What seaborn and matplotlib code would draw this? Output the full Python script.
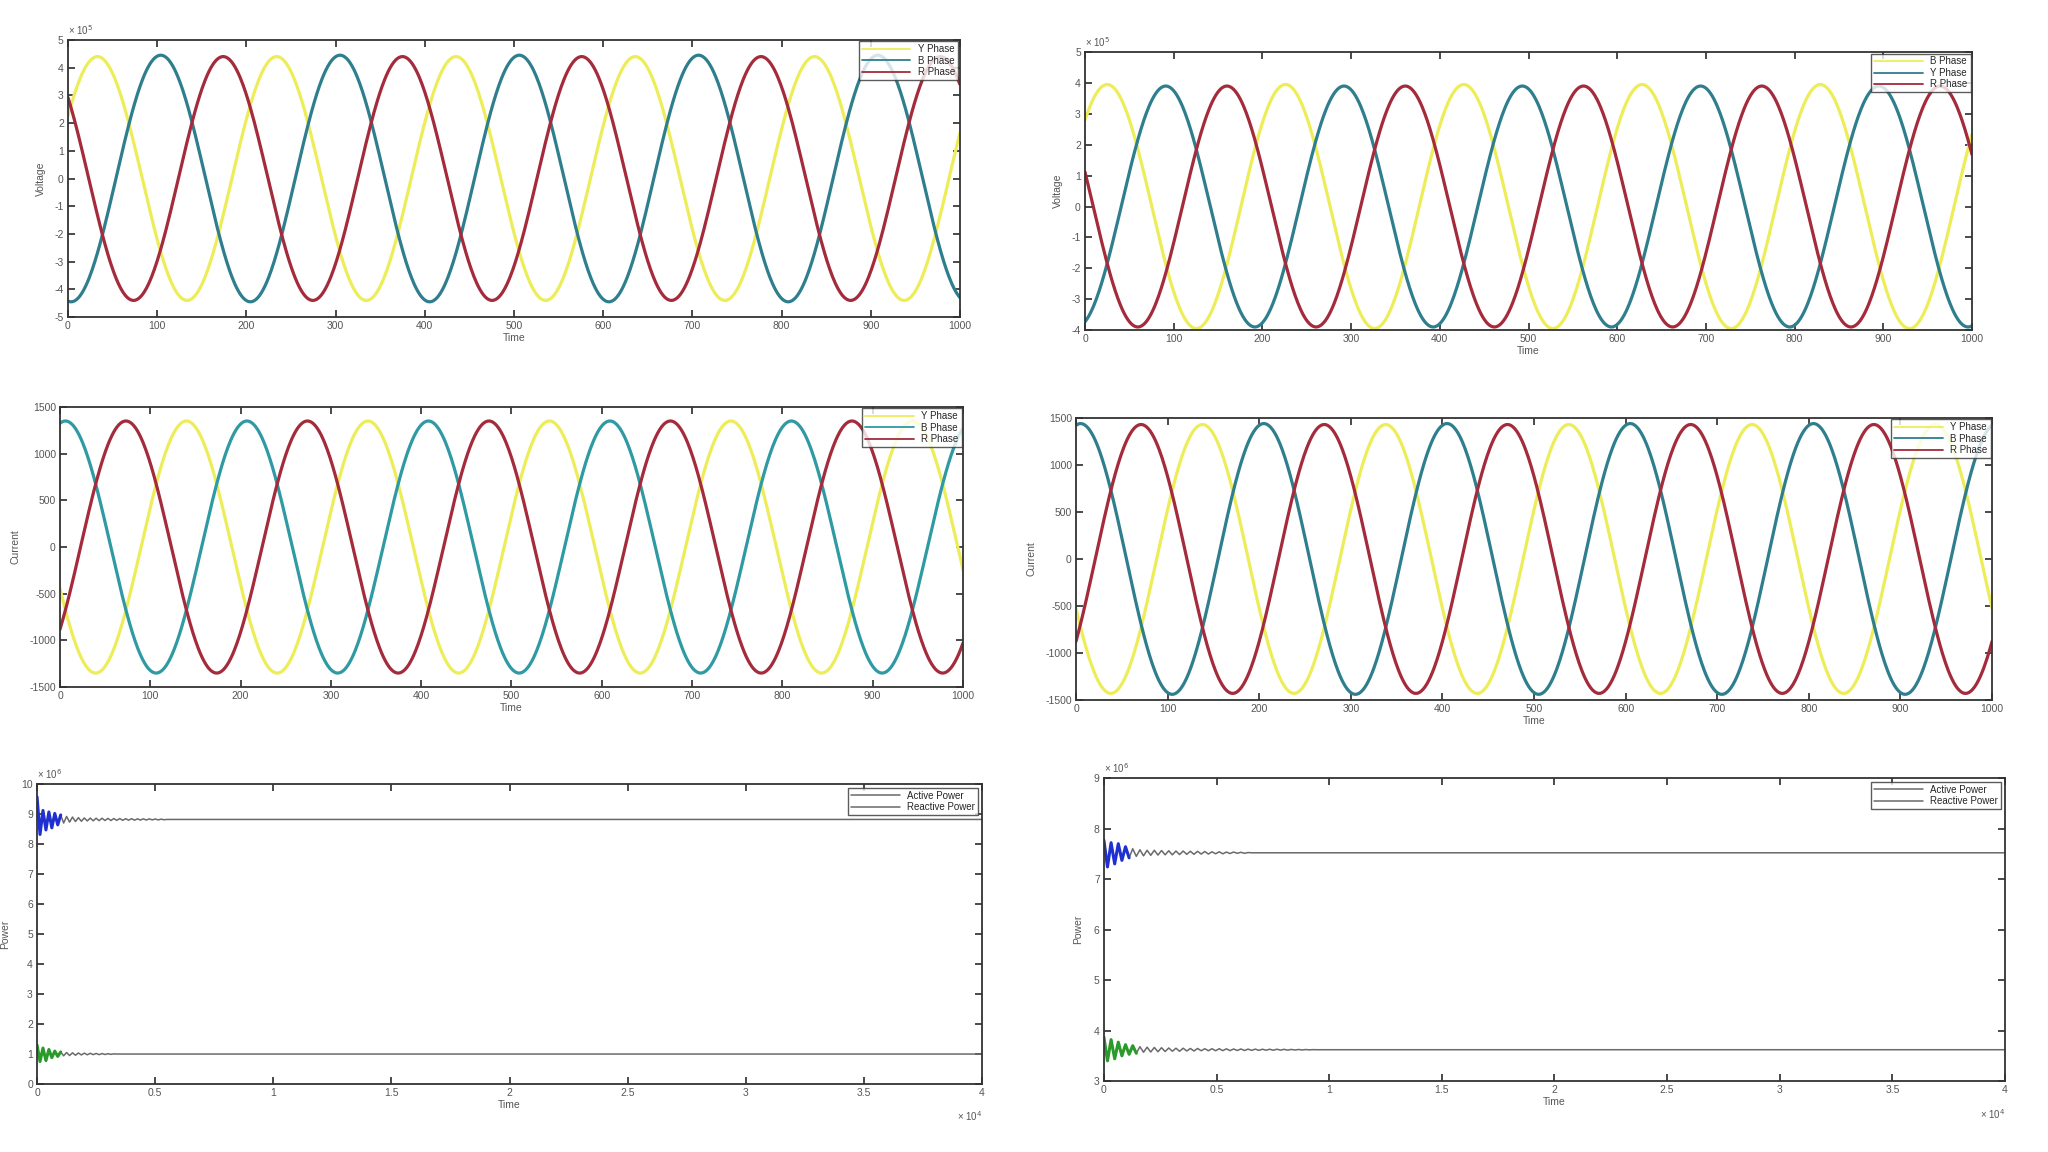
import numpy as np
import pandas as pd
import matplotlib
matplotlib.use('Agg')
import matplotlib.pyplot as plt
import seaborn as sns

# ---- phase waveforms: amplitude, time of first peak, period
time = np.arange(0, 1001)

tl_names = ['Y Phase', 'B Phase', 'R Phase']
tl_colors = ['#eded5a', '#2f7e8e', '#a42b3b']
tl_amp = [4.4, 4.45, 4.4]          # x 10^5
tl_peak = [33, 104, 174]
tl_period = 201

tr_names = ['B Phase', 'Y Phase', 'R Phase']
tr_colors = ['#eded5a', '#2f7e8e', '#a42b3b']
tr_amp = [3.95, 3.9, 3.9]          # x 10^5
tr_peak = [25, 91, 160]
tr_period = 201

ml_names = ['Y Phase', 'B Phase', 'R Phase']
ml_colors = ['#eded5a', '#2f9aa3', '#a42b3b']
ml_amp = [1350, 1350, 1350]
ml_peak = [140, 6, 73]
ml_period = 201

mr_names = ['Y Phase', 'B Phase', 'R Phase']
mr_colors = ['#eded5a', '#2f7e8e', '#a42b3b']
mr_amp = [1430, 1440, 1430]
mr_peak = [138, 5, 71]
mr_period = 200

# ---- power: steady level and readings of the start-up wiggle (x 10^4 time)
power_names = ['Active Power', 'Reactive Power']
bl_level = [8.82, 1.0]
br_level = [7.52, 3.62]
bl_step = 0.0125
br_step = 0.016
bl_act_dev = [0.75, -0.5, 0.3, -0.35, 0.25, -0.28, 0.2, -0.18, 0.15, -0.12,
              0.1, -0.09, 0.08, -0.07, 0.06, -0.06, 0.05, -0.05, 0.045, -0.045,
              0.04, -0.04, 0.04, -0.035, 0.035, -0.035, 0.03, -0.03, 0.03, -0.03,
              0.025, -0.025, 0.025, -0.025, 0.02, -0.02, 0.02, -0.02, 0.02, -0.015,
              0.015, -0.015, 0.01, -0.01, 0.0]
bl_rea_dev = [0.3, -0.25, 0.2, -0.22, 0.15, -0.12, 0.1, -0.08, 0.07, -0.06,
              0.05, -0.05, 0.04, -0.04, 0.035, -0.03, 0.03, -0.025, 0.025, -0.02,
              0.02, -0.02, 0.015, -0.015, 0.01, -0.01, 0.005, 0.0]
br_act_dev = [0.25, -0.28, 0.2, -0.22, 0.18, -0.15, 0.12, -0.1, 0.08, -0.07,
              0.06, -0.06, 0.05, -0.05, 0.05, -0.045, 0.045, -0.04, 0.04, -0.04,
              0.035, -0.035, 0.035, -0.03, 0.03, -0.03, 0.03, -0.025, 0.025, -0.025,
              0.02, -0.02, 0.02, -0.02, 0.015, -0.015, 0.015, -0.01, 0.01, -0.01,
              0.005, 0.0]
br_rea_dev = [0.25, -0.22, 0.2, -0.18, 0.15, -0.12, 0.1, -0.09, 0.08, -0.07,
              0.06, -0.05, 0.05, -0.045, 0.045, -0.04, 0.04, -0.035, 0.035, -0.03,
              0.03, -0.03, 0.03, -0.025, 0.025, -0.025, 0.025, -0.02, 0.02, -0.02,
              0.02, -0.02, 0.02, -0.018, 0.018, -0.018, 0.015, -0.015, 0.015, -0.015,
              0.012, -0.012, 0.012, -0.012, 0.01, -0.01, 0.01, -0.01, 0.01, -0.008,
              0.008, -0.008, 0.006, -0.006, 0.005, -0.005, 0.004, -0.003, 0.002, 0.0]
bl_colored = [9, 9]     # how many wiggle readings are drawn blue / green
br_colored = [8, 10]

sns.set_theme(style='ticks')
plt.rcParams['font.family'] = ['Liberation Sans', 'DejaVu Sans']
plt.rcParams['xtick.direction'] = 'in'
plt.rcParams['ytick.direction'] = 'in'
plt.rcParams['xtick.top'] = True
plt.rcParams['ytick.right'] = True
plt.rcParams['xtick.major.size'] = 5
plt.rcParams['ytick.major.size'] = 5
plt.rcParams['axes.linewidth'] = 1.3
plt.rcParams['axes.edgecolor'] = '#333333'

fig = plt.figure(figsize=(20.48, 11.52), dpi=100)
fig.patch.set_facecolor('white')


def style_axes(ax, xlim, ylim, yticks, xticks, ylabel, ylabpad):
    ax.set_xlim(*xlim)
    ax.set_ylim(*ylim)
    ax.set_xticks(xticks)
    ax.set_yticks(yticks)
    ax.tick_params(labelsize=7.5, labelcolor='#555555', color='#333333', pad=3)
    ax.set_xlabel('Time', fontsize=7.5, color='#555555', labelpad=1)
    ax.set_ylabel(ylabel, fontsize=7.5, color='#555555', labelpad=ylabpad)
    for s in ax.spines.values():
        s.set_visible(True)


def fmt(v):
    return '%g' % v


def phase_panel(rect, names, colors, amp, peak, period, ylim, yticks, ylabel, exp_text):
    ax = fig.add_axes(rect)
    for n, c, a, p in zip(names, colors, amp, peak):
        y = a * np.cos(2 * np.pi * (time - p) / period)
        sns.lineplot(x=time, y=y, ax=ax, color=c, lw=2.3, label=n,
                     estimator=None, sort=False)
    style_axes(ax, (0, 1000), ylim, yticks, np.arange(0, 1001, 100), ylabel, 6)
    ax.set_yticklabels([fmt(v) for v in yticks])
    leg = ax.legend(loc='upper right', fontsize=7, frameon=True, fancybox=False,
                    edgecolor='#333333', borderaxespad=0.15, handlelength=5,
                    labelspacing=0.15, borderpad=0.3)
    leg.get_frame().set_linewidth(1.0)
    for line in leg.get_lines():
        line.set_linewidth(1.3)
    if exp_text:
        ax.text(0.0, 1.01, exp_text, transform=ax.transAxes, fontsize=7,
                color='#555555', ha='left', va='bottom')
    return ax


def power_panel(rect, level, devs, colored, step, ylim, yticks):
    ax = fig.add_axes(rect)
    lead = ['#1f2fd0', '#2a9a2a']
    for n, lv, dev, k, lc in zip(power_names, level, devs, colored, lead):
        tw = np.arange(len(dev)) * step
        yw = lv + np.array(dev)
        df = pd.DataFrame({'t': np.r_[tw, 4.0], 'v': np.r_[yw, lv]})
        sns.lineplot(data=df, x='t', y='v', ax=ax, color='#6a6a6a', lw=1.1,
                     label=n, estimator=None, sort=False)
        sns.lineplot(x=tw[:k], y=yw[:k], ax=ax, color=lc, lw=2.2,
                     estimator=None, sort=False)
    style_axes(ax, (0, 4), ylim, yticks, np.arange(0, 4.01, 0.5), 'Power', 8)
    ax.set_xticklabels([fmt(v) for v in np.arange(0, 4.01, 0.5)])
    ax.set_yticklabels([fmt(v) for v in yticks])
    handles, labels = ax.get_legend_handles_labels()
    leg = ax.legend(handles[:2], labels[:2], loc='upper right', fontsize=7,
                    frameon=True, fancybox=False, edgecolor='#333333',
                    borderaxespad=0.4, handlelength=5, labelspacing=0.15,
                    borderpad=0.3)
    leg.get_frame().set_linewidth(1.0)
    ax.text(0.0, 1.01, '× 10$^6$', transform=ax.transAxes, fontsize=7,
            color='#555555', ha='left', va='bottom')
    ax.text(1.0, -0.085, '× 10$^4$', transform=ax.transAxes, fontsize=7,
            color='#555555', ha='right', va='top')
    return ax


phase_panel([0.0332, 0.7248, 0.4355, 0.2405], tl_names, tl_colors, tl_amp, tl_peak,
            tl_period, (-5, 5), np.arange(-5, 6, 1), 'Voltage', '× 10$^5$')
phase_panel([0.5298, 0.7135, 0.4331, 0.2413], tr_names, tr_colors, tr_amp, tr_peak,
            tr_period, (-4, 5), np.arange(-4, 6, 1), 'Voltage', '× 10$^5$')
phase_panel([0.0293, 0.4036, 0.4409, 0.2431], ml_names, ml_colors, ml_amp, ml_peak,
            ml_period, (-1500, 1500), np.arange(-1500, 1501, 500), 'Current', None)
phase_panel([0.5254, 0.3924, 0.4473, 0.2448], mr_names, mr_colors, mr_amp, mr_peak,
            mr_period, (-1500, 1500), np.arange(-1500, 1501, 500), 'Current', None)

power_panel([0.0181, 0.0590, 0.4614, 0.2604], bl_level, [bl_act_dev, bl_rea_dev],
            bl_colored, bl_step, (0, 10), np.arange(0, 11, 1))
power_panel([0.5390, 0.0616, 0.4400, 0.2630], br_level, [br_act_dev, br_rea_dev],
            br_colored, br_step, (3, 9), np.arange(3, 10, 1))

fig.savefig('out.png', dpi=100, facecolor='white')
